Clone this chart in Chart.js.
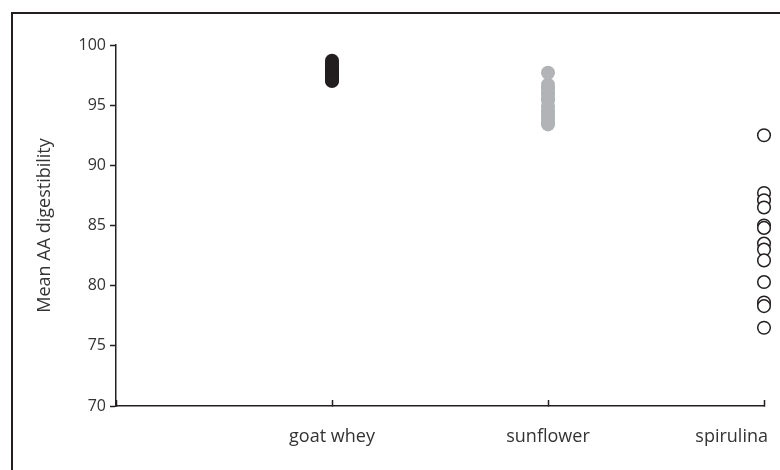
<!DOCTYPE html>
<html>
<head>
<meta charset="utf-8">
<script src="https://cdn.jsdelivr.net/npm/chart.js@4.4.1/dist/chart.umd.min.js"></script>
<style>
  html, body { margin: 0; padding: 0; background: #fff; }
  #wrap { position: relative; width: 780px; height: 470px; overflow: hidden; }
  #frame {
    position: absolute; left: 11px; top: 12px; right: -20px; bottom: -20px;
    border-left: 2px solid #231f20; border-top: 2px solid #231f20;
    pointer-events: none;
  }
</style>
</head>
<body>
<div id="wrap">
  <canvas id="chart"></canvas>
  <div id="frame"></div>
</div>
<script>
// categories along the x axis (placed at 1, 2, 3)
const categories = ['goat whey', 'sunflower', 'spirulina'];

// mean amino acid digestibility per amino acid
const goatWhey = [98.7, 98.5, 98.3, 98.1, 97.9, 97.8, 97.6, 97.5, 97.4, 97.3, 97.2, 97.1, 97.0];
const sunflower = [97.7, 96.7, 96.4, 96.1, 95.9, 95.6, 95.4, 94.9, 94.5, 94.2, 93.9, 93.6, 93.4];
const spirulina = [92.5, 87.7, 87.1, 86.5, 85.0, 84.8, 83.5, 83.0, 82.1, 80.3, 78.6, 78.3, 76.5];

const yTicks = [70, 75, 80, 85, 90, 95, 100];

const ink = '#231f20';
const textColor = '#333333';
const fontFamily = '"Open Sans", sans-serif';

function toPoints(values, idx) {
  return values.map(v => ({ x: idx + 1, y: v }));
}

// draws the category names under the x ticks, keeping the last one inside the canvas
const categoryLabels = {
  id: 'categoryLabels',
  afterDraw(chart) {
    const ctx = chart.ctx;
    const xs = chart.scales.x;
    ctx.save();
    ctx.font = '18px ' + fontFamily;
    ctx.fillStyle = textColor;
    ctx.textAlign = 'left';
    ctx.textBaseline = 'middle';
    categories.forEach((name, i) => {
      const px = xs.getPixelForValue(i + 1);
      const w = ctx.measureText(name).width;
      let left = px - w / 2;
      if (left + w > chart.width - 12) left = chart.width - 12 - w;
      ctx.fillText(name, left, xs.top + 31);
    });
    ctx.restore();
  }
};

const ctx = document.getElementById('chart').getContext('2d');
new Chart(ctx, {
  type: 'scatter',
  data: {
    datasets: [
      {
        label: categories[0],
        data: toPoints(goatWhey, 0),
        pointRadius: 7,
        pointBorderWidth: 0,
        backgroundColor: ink,
        borderColor: ink,
        clip: false
      },
      {
        label: categories[1],
        data: toPoints(sunflower, 1),
        pointRadius: 7,
        pointBorderWidth: 0,
        backgroundColor: '#b1b3b6',
        borderColor: '#b1b3b6',
        clip: false
      },
      {
        label: categories[2],
        data: toPoints(spirulina, 2),
        pointRadius: 6.3,
        pointBorderWidth: 1.5,
        backgroundColor: '#ffffff',
        borderColor: ink,
        clip: false
      }
    ]
  },
  options: {
    responsive: true,
    maintainAspectRatio: false,
    animation: false,
    layout: { padding: { left: 0, top: 45, right: 16, bottom: 0 } },
    plugins: {
      legend: { display: false },
      tooltip: { enabled: false }
    },
    scales: {
      x: {
        type: 'linear',
        min: 0,
        max: categories.length,
        border: { display: true, color: ink, width: 1.5 },
        grid: { drawOnChartArea: false, drawTicks: true, tickLength: -6, tickColor: ink, tickWidth: 1.5 },
        ticks: { display: false, stepSize: 1 },
        afterFit(scale) {
          scale.height = 64;
          scale.paddingLeft = 0;
          scale.paddingRight = 0;
        }
      },
      y: {
        min: yTicks[0],
        max: yTicks[yTicks.length - 1],
        border: { display: true, color: ink, width: 1.5 },
        grid: { drawOnChartArea: false, drawTicks: true, tickLength: 6, tickColor: ink, tickWidth: 1.5 },
        afterBuildTicks(scale) {
          scale.ticks = yTicks.map(v => ({ value: v }));
        },
        ticks: {
          color: textColor,
          padding: 4,
          font: { family: fontFamily, size: 16 }
        },
        title: {
          display: true,
          text: 'Mean AA digestibility',
          color: textColor,
          font: { family: fontFamily, size: 18 },
          padding: { top: 34, bottom: 0 }
        },
        afterFit(scale) {
          scale.width = 116;
        }
      }
    }
  },
  plugins: [categoryLabels]
});
</script>
</body>
</html>
